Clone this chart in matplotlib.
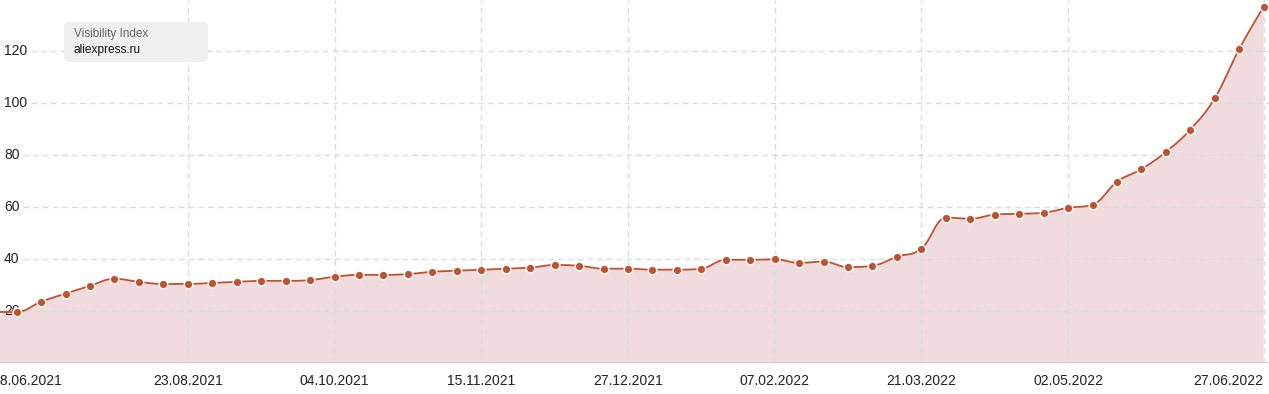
import datetime as dt
import numpy as np
import matplotlib
matplotlib.use("Agg")
import matplotlib.pyplot as plt
import matplotlib.dates as mdates
import matplotlib.transforms as mtransforms
from matplotlib.patches import FancyBboxPatch

plt.rcParams['font.family'] = ['Liberation Sans', 'DejaVu Sans']

# ---------------- data ----------------
start_date = dt.date(2021, 6, 28)
values = [19.8,
          19.7, 23.7, 26.8, 29.8, 32.5, 31.3, 30.5, 30.5, 30.9, 31.3, 31.7, 31.7,
          32.0, 33.3, 34.0, 34.0, 34.3, 35.2, 35.6, 36.0, 36.4, 36.8, 37.8, 37.5,
          36.4, 36.4, 36.0, 36.0, 36.4, 39.8, 39.8, 40.0, 38.6, 39.1, 37.0, 37.5,
          41.0, 44.1, 56.0, 55.6, 57.2, 57.5, 57.9, 59.8, 61.0, 69.8, 74.7, 81.3,
          89.9, 102.0, 120.9, 137.2]
dates = [start_date + dt.timedelta(weeks=i) for i in range(len(values))]
tick_labels = ['28.06.2021', '23.08.2021', '04.10.2021', '15.11.2021', '27.12.2021',
               '07.02.2022', '21.03.2022', '02.05.2022', '27.06.2022']
y_ticks = [20, 40, 60, 80, 100, 120]
legend_title = 'Visibility Index'
legend_name = 'aliexpress.ru'

# ---------------- styling ----------------
W, H = 1269, 394
LINE = '#c0532f'
FILL = '#f0dcdf'
GRID = '#dcdcdc'

fig = plt.figure(figsize=(W / 100, H / 100), dpi=100)
ax = fig.add_axes([0, 30.7 / H, 1, 363.3 / H])
ax.set_axis_off()

xs = mdates.date2num(dates)
ys = np.array(values, dtype=float)


def highcharts_spline(x, y, smoothing=1.5, n=16):
    """Cubic bezier spline as used by Highcharts 'spline' series."""
    m = len(x)
    lc = [None] * m
    rc = [None] * m
    denom = smoothing + 1
    for i in range(m):
        if i == 0 or i == m - 1:
            lc[i] = (x[i], y[i])
            rc[i] = (x[i], y[i])
            continue
        lx, ly = x[i - 1], y[i - 1]
        nx, ny = x[i + 1], y[i + 1]
        px, py = x[i], y[i]
        lcx = (smoothing * px + lx) / denom
        lcy = (smoothing * py + ly) / denom
        rcx = (smoothing * px + nx) / denom
        rcy = (smoothing * py + ny) / denom
        corr = 0.0
        if rcx != lcx:
            corr = ((rcy - lcy) * (rcx - px)) / (rcx - lcx) + py - rcy
        lcy += corr
        rcy += corr
        if lcy > ly and lcy > py:
            lcy = max(ly, py)
            rcy = 2 * py - lcy
        elif lcy < ly and lcy < py:
            lcy = min(ly, py)
            rcy = 2 * py - lcy
        if rcy > ny and rcy > py:
            rcy = max(ny, py)
            lcy = 2 * py - rcy
        elif rcy < ny and rcy < py:
            rcy = min(ny, py)
            lcy = 2 * py - rcy
        lc[i] = (lcx, lcy)
        rc[i] = (rcx, rcy)
    out_x, out_y = [x[0]], [y[0]]
    t = np.linspace(0, 1, n + 1)[1:]
    for i in range(1, m):
        p0 = np.array([x[i - 1], y[i - 1]])
        p1 = np.array(rc[i - 1])
        p2 = np.array(lc[i])
        p3 = np.array([x[i], y[i]])
        for tt in t:
            pt = ((1 - tt) ** 3) * p0 + 3 * ((1 - tt) ** 2) * tt * p1 \
                + 3 * (1 - tt) * tt ** 2 * p2 + tt ** 3 * p3
            out_x.append(pt[0])
            out_y.append(pt[1])
    return np.array(out_x), np.array(out_y)


sx, sy = highcharts_spline(xs, ys)

# view limits
ax.set_xlim(xs[0] + 2.23, xs[-1] + 1.51)
ax.set_ylim(0, 139.7)

# area + line + markers
ax.fill_between(sx, 0, sy, color=FILL, lw=0, zorder=1)
ax.plot(sx, sy, color=LINE, lw=1.3, zorder=4, solid_capstyle='round')
ax.plot(xs, ys, ls='none', marker='o', ms=6.2, mfc=LINE, mec='white', mew=1.0,
        zorder=5, clip_on=False)

# grid: vertical at tick dates
tick_dates = [mdates.date2num(dt.datetime.strptime(t, '%d.%m.%Y')) for t in tick_labels]
for td in tick_dates:
    ax.axvline(td, color=GRID, lw=1, ls=(0, (4, 3)), zorder=2)

# horizontal grid + labels
ylab_tr = mtransforms.blended_transform_factory(ax.transAxes, ax.transData)
for v in y_ticks:
    lab = str(v)
    wpx = 7.7 * len(lab)
    ax.axhline(v, xmin=(4 + wpx + 4) / W, xmax=1, color=GRID, lw=1,
               ls=(0, (4, 3)), zorder=2)
    ax.text(4 / W, v, lab, transform=ylab_tr, ha='left', va='center',
            fontsize=10, color='#222222', zorder=3)

# bottom axis line
ax.axhline(0, color='#d6c3c6', lw=1.2, zorder=3)

# x labels
xlab_tr = mtransforms.blended_transform_factory(ax.transData, fig.transFigure)
for i, (td, lab) in enumerate(zip(tick_dates, tick_labels)):
    ha = 'center'
    if i == 0:
        ha = 'left'
    elif i == len(tick_labels) - 1:
        ha = 'right'
    ax.text(td, 1 - 381 / H, lab, transform=xlab_tr, ha=ha, va='center',
            fontsize=10, color='#222222', clip_on=False)

# legend box
box = FancyBboxPatch((64 / W, 1 - 62 / H), (208 - 64) / W, 40 / H,
                     boxstyle='round,pad=0,rounding_size=0.004',
                     transform=fig.transFigure, fc='#f0f0f0', ec='none',
                     zorder=10, mutation_aspect=W / H)
fig.patches.append(box)
fig.text(74 / W, 1 - 34 / H, legend_title, ha='left', va='center', fontsize=8.5,
         color='#666666', zorder=11)
fig.text(74 / W, 1 - 50.5 / H, legend_name, ha='left', va='center', fontsize=8.6,
         color='#111111', zorder=11)

fig.savefig('out.png', dpi=100)
